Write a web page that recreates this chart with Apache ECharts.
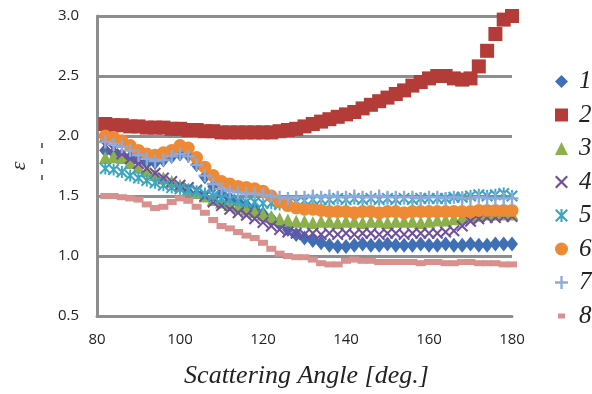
<!DOCTYPE html>
<html>
<head>
<meta charset="utf-8">
<script src="https://cdn.jsdelivr.net/npm/echarts@6/dist/echarts.min.js"></script>
<style>
  html, body { margin: 0; padding: 0; background: #fff; }
  #chart { width: 592px; height: 394px; }
</style>
</head>
<body>
<div id="chart"></div>
<script>
// scattering angle [deg.]
const angles = [82, 84, 86, 88, 90, 92, 94, 96, 98, 100, 102, 104, 106, 108, 110, 112, 114, 116, 118, 120,
  122, 124, 126, 128, 130, 132, 134, 136, 138, 140, 142, 144, 146, 148, 150, 152, 154, 156, 158, 160,
  162, 164, 166, 168, 170, 172, 174, 176, 178, 180]

const s1 = [1.88, 1.86, 1.84, 1.82, 1.80, 1.78, 1.78, 1.80, 1.83, 1.85, 1.84, 1.76, 1.66, 1.58, 1.52, 1.48, 1.45, 1.42, 1.39, 1.35,
  1.31, 1.27, 1.22, 1.18, 1.15, 1.13, 1.11, 1.09, 1.08, 1.08, 1.09, 1.10, 1.09, 1.09, 1.10, 1.09, 1.09, 1.09, 1.10, 1.09,
  1.09, 1.10, 1.09, 1.09, 1.10, 1.09, 1.09, 1.10, 1.10, 1.10]
const s2 = [2.10, 2.09, 2.09, 2.08, 2.08, 2.07, 2.07, 2.07, 2.06, 2.06, 2.05, 2.05, 2.04, 2.04, 2.03, 2.03, 2.03, 2.03, 2.03, 2.03,
  2.03, 2.04, 2.05, 2.06, 2.08, 2.10, 2.12, 2.14, 2.16, 2.18, 2.20, 2.23, 2.26, 2.29, 2.32, 2.35, 2.38, 2.42, 2.45, 2.48,
  2.50, 2.50, 2.48, 2.47, 2.48, 2.58, 2.71, 2.85, 2.97, 3.00]
const s3 = [1.82, 1.83, 1.82, 1.78, 1.74, 1.71, 1.68, 1.65, 1.62, 1.59, 1.56, 1.53, 1.50, 1.47, 1.45, 1.43, 1.41, 1.39, 1.37, 1.35,
  1.33, 1.31, 1.30, 1.29, 1.29, 1.28, 1.29, 1.29, 1.28, 1.29, 1.29, 1.28, 1.29, 1.29, 1.28, 1.29, 1.29, 1.29, 1.28, 1.29,
  1.30, 1.30, 1.31, 1.32, 1.33, 1.34, 1.35, 1.35, 1.35, 1.35]
const s4 = [1.92, 1.89, 1.85, 1.81, 1.77, 1.73, 1.69, 1.65, 1.62, 1.59, 1.57, 1.55, 1.50, 1.45, 1.42, 1.39, 1.36, 1.34, 1.31, 1.28,
  1.25, 1.22, 1.20, 1.19, 1.18, 1.19, 1.18, 1.19, 1.18, 1.19, 1.18, 1.19, 1.19, 1.18, 1.19, 1.19, 1.18, 1.19, 1.19, 1.19,
  1.19, 1.20, 1.21, 1.25, 1.29, 1.31, 1.32, 1.32, 1.33, 1.33]
const s5 = [1.73, 1.72, 1.70, 1.67, 1.65, 1.63, 1.61, 1.59, 1.57, 1.56, 1.55, 1.54, 1.52, 1.50, 1.48, 1.47, 1.46, 1.45, 1.45, 1.44,
  1.44, 1.43, 1.44, 1.45, 1.46, 1.47, 1.47, 1.47, 1.48, 1.47, 1.48, 1.47, 1.48, 1.47, 1.48, 1.47, 1.48, 1.47, 1.48, 1.48,
  1.48, 1.48, 1.49, 1.49, 1.50, 1.51, 1.50, 1.51, 1.52, 1.50]
const s6 = [2.00, 1.99, 1.96, 1.92, 1.88, 1.85, 1.84, 1.86, 1.88, 1.92, 1.90, 1.82, 1.74, 1.67, 1.62, 1.60, 1.58, 1.57, 1.56, 1.54,
  1.50, 1.45, 1.42, 1.40, 1.39, 1.39, 1.38, 1.37, 1.37, 1.37, 1.36, 1.37, 1.37, 1.36, 1.37, 1.37, 1.36, 1.37, 1.37, 1.37,
  1.37, 1.37, 1.37, 1.37, 1.37, 1.38, 1.38, 1.38, 1.38, 1.38]
const s7 = [1.95, 1.93, 1.91, 1.88, 1.84, 1.81, 1.79, 1.80, 1.83, 1.85, 1.83, 1.76, 1.67, 1.60, 1.56, 1.54, 1.53, 1.52, 1.52, 1.51,
  1.50, 1.49, 1.48, 1.49, 1.49, 1.50, 1.49, 1.50, 1.49, 1.49, 1.50, 1.49, 1.49, 1.50, 1.49, 1.49, 1.49, 1.49, 1.48, 1.49,
  1.49, 1.48, 1.49, 1.48, 1.48, 1.49, 1.48, 1.48, 1.48, 1.48]
const s8 = [1.50, 1.50, 1.49, 1.48, 1.47, 1.43, 1.40, 1.41, 1.45, 1.48, 1.46, 1.41, 1.36, 1.30, 1.25, 1.23, 1.20, 1.17, 1.15, 1.11,
  1.06, 1.02, 1.00, 0.99, 0.99, 0.97, 0.94, 0.93, 0.93, 0.96, 0.97, 0.96, 0.96, 0.95, 0.95, 0.95, 0.95, 0.95, 0.94, 0.95,
  0.95, 0.94, 0.94, 0.95, 0.95, 0.94, 0.94, 0.94, 0.93, 0.93]

const names = ['1', '2', '3', '4', '5', '6', '7', '8']
const values = [s1, s2, s3, s4, s5, s6, s7, s8]
const colors = ['#3f6fb5', '#b33b38', '#8cb04a', '#70509e', '#3aa6c2', '#ee8a35', '#8eaadc', '#d9918f']

const X_PATH = 'path://M1.2,0L5,3.8L8.8,0L10,1.2L6.2,5L10,8.8L8.8,10L5,6.2L1.2,10L0,8.8L3.8,5L0,1.2Z'
const STAR_PATH = 'path://M1.2,0L5,3.8L8.8,0L10,1.2L6.2,5L10,8.8L8.8,10L5,6.2L1.2,10L0,8.8L3.8,5L0,1.2Z M4.2,0L5.8,0L5.8,10L4.2,10Z'
const PLUS_PATH = 'path://M4.1,0L5.9,0L5.9,4.1L10,4.1L10,5.9L5.9,5.9L5.9,10L4.1,10L4.1,5.9L0,5.9L0,4.1L4.1,4.1Z'
// small dash for the legend, padded with specks so it is not stretched
const DASH_ICON = 'path://M0,0L0.01,0L0,0.01Z M2,4L9,4L9,9L2,9Z M11,13L10.99,13L11,12.99Z'
const symbols = ['diamond', 'rect', 'triangle', X_PATH, STAR_PATH, 'circle', PLUS_PATH, 'rect']
const legendIcons = ['diamond', 'rect', 'triangle', X_PATH, STAR_PATH, 'circle', PLUS_PATH, DASH_ICON]
const sizes = [[12, 15], 14, 13, 12, 12, 13, 13, [10, 6]]

const gridGray = '#8e8e8e'

let chart = echarts.init(document.getElementById('chart'))

let option = {
  animation: false,
  grid: { left: 82, top: 16, width: 430, height: 301 },
  legend: {
    orient: 'vertical',
    left: 550,
    top: 64,
    itemWidth: 13,
    itemHeight: 13,
    itemGap: 8.5,
    data: names.map((n, i) => ({ name: n, icon: legendIcons[i] })),
    textStyle: {
      fontFamily: 'Liberation Serif',
      fontStyle: 'italic',
      fontSize: 25,
      lineHeight: 24,
      color: '#222',
      padding: [0, 0, 0, 6]
    }
  },
  xAxis: {
    type: 'value',
    min: 80,
    max: 180,
    interval: 20,
    name: 'Scattering Angle [deg.]',
    nameLocation: 'middle',
    nameGap: 47,
    nameTextStyle: {
      fontFamily: 'Liberation Serif',
      fontStyle: 'italic',
      fontSize: 26,
      color: '#222',
      padding: [0, 0, 0, 4]
    },
    axisLine: { show: true, lineStyle: { color: gridGray, width: 3 } },
    axisTick: { show: false },
    splitLine: { show: false },
    axisLabel: {
      margin: 16,
      fontFamily: 'Open Sans',
      fontSize: 15,
      color: '#222'
    }
  },
  yAxis: {
    type: 'value',
    min: 0.5,
    max: 3.0,
    interval: 0.5,
    name: 'ε',
    nameLocation: 'middle',
    nameGap: 67,
    nameRotate: 90,
    nameTextStyle: {
      fontFamily: 'Liberation Serif',
      fontStyle: 'italic',
      fontSize: 22,
      color: '#333'
    },
    axisLine: { show: true, lineStyle: { color: gridGray, width: 3 } },
    axisTick: { show: false },
    splitLine: { show: true, lineStyle: { color: gridGray, width: 3 } },
    axisLabel: {
      margin: 18,
      fontFamily: 'Open Sans',
      fontSize: 15,
      color: '#222',
      formatter: v => v.toFixed(1)
    }
  },
  graphic: [
    {
      type: 'line',
      shape: { x1: 42, y1: 143, x2: 42, y2: 186 },
      style: { stroke: '#444', lineWidth: 1.5, lineDash: [5, 11] },
      silent: true
    }
  ],
  series: values.map((vals, i) => ({
    name: names[i],
    type: 'scatter',
    symbol: symbols[i],
    symbolSize: sizes[i],
    itemStyle: { color: colors[i], opacity: 1 },
    data: angles.map((a, j) => [a, vals[j]])
  }))
}

chart.setOption(option)
</script>
</body>
</html>
